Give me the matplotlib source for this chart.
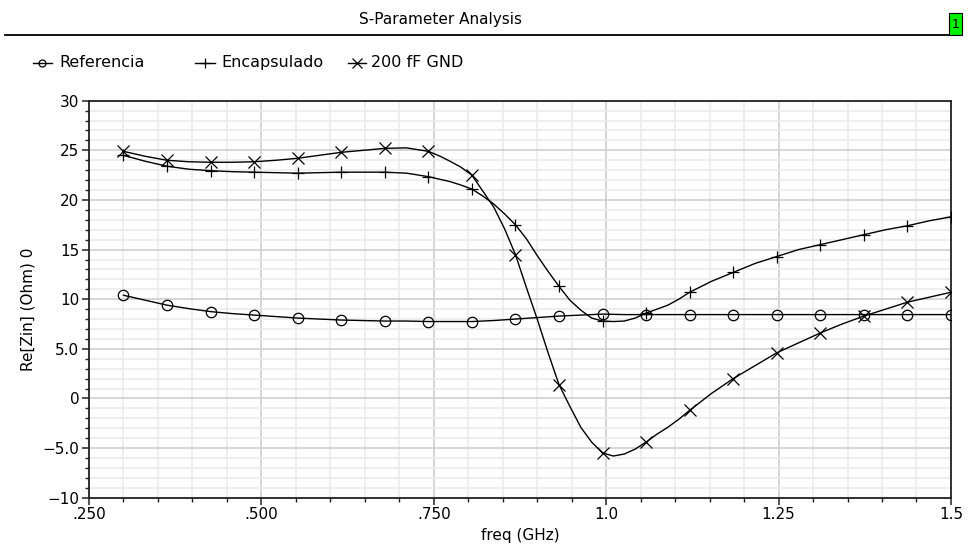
import numpy as np
import matplotlib
matplotlib.use('Agg')
import matplotlib.pyplot as plt
from matplotlib.ticker import MultipleLocator, FixedLocator, FixedFormatter
from matplotlib.patches import Rectangle
from matplotlib.lines import Line2D

# marker grid (GHz): 20 markers from 0.3 to 1.5, curve points halfway between
freq = np.linspace(0.3, 1.5, 39)
# finer sampling through the steep region 0.742 - 1.121 GHz
freq_fine = np.concatenate([freq[:14], np.linspace(freq[14], freq[26], 25), freq[27:]])

referencia = [10.4, 9.9, 9.4, 9.05, 8.75, 8.55, 8.4, 8.25, 8.1, 8.0,
              7.9, 7.85, 7.8, 7.8, 7.75, 7.75, 7.75, 7.85, 8.0, 8.15,
              8.3, 8.4, 8.5, 8.45, 8.45, 8.45, 8.45, 8.45, 8.45, 8.45,
              8.45, 8.45, 8.45, 8.45, 8.45, 8.45, 8.45, 8.45, 8.45]

encapsulado = [24.5, 23.9, 23.4, 23.1, 22.95, 22.85, 22.8, 22.75, 22.7, 22.75,
               22.8, 22.8, 22.8, 22.7,
               22.35, 22.1, 21.85, 21.5, 21.1, 20.4, 19.6, 18.6, 17.5, 16.1,
               14.4, 12.8, 11.3, 9.9, 8.9, 8.1, 7.8, 7.75, 7.8, 8.1,
               8.6, 9.0, 9.4, 10.0, 10.7,
               11.8, 12.7, 13.6, 14.3, 15.0, 15.5, 16.0, 16.5, 17.0, 17.4,
               17.9, 18.3]

gnd200 = [24.9, 24.4, 24.0, 23.85, 23.8, 23.8, 23.85, 24.0, 24.2, 24.5,
          24.8, 25.0, 25.2, 25.25,
          24.9, 24.45, 23.9, 23.3, 22.5, 20.9, 19.3, 17.1, 14.5, 11.2,
          8.0, 4.6, 1.4, -0.8, -2.9, -4.4, -5.5, -5.8, -5.6, -5.1,
          -4.4, -3.6, -2.9, -2.1, -1.2,
          0.5, 2.0, 3.3, 4.6, 5.6, 6.6, 7.5, 8.3, 9.0, 9.7,
          10.2, 10.7]

series_names = ['Referencia', 'Encapsulado', '200 fF GND']
series_marks = ['o', '+', 'x']

xticks = [0.25, 0.5, 0.75, 1.0, 1.25, 1.5]
xlabels = ['.250', '.500', '.750', '1.0', '1.25', '1.5']
yticks = [-10, -5, 0, 5, 10, 15, 20, 25, 30]
ylabels = ['\u221210', '\u22125.0', '0', '5.0', '10', '15', '20', '25', '30']

plt.rcParams['font.family'] = 'DejaVu Sans'

fig = plt.figure(figsize=(9.69, 5.48), dpi=100)
ax = fig.add_axes([0.0918, 0.0918, 0.8896, 0.7244])

curves = [(freq, referencia), (freq_fine, encapsulado), (freq_fine, gnd200)]
for (f, vals), name, m in zip(curves, series_names, series_marks):
    f = np.asarray(f)
    # markers only on the 20-point marker grid
    idx = [i for i, v in enumerate(f) if np.isclose(freq[::2], v).any()]
    ms = 7.5 if m == 'o' else 9
    ax.plot(f, vals, color='black', lw=1.0, marker=m, markevery=idx,
            ms=ms, mfc='none', mec='black', mew=0.9, label=name, zorder=3)

ax.set_xlim(0.25, 1.5)
ax.set_ylim(-10, 30)
ax.xaxis.set_major_locator(FixedLocator(xticks))
ax.xaxis.set_major_formatter(FixedFormatter(xlabels))
ax.xaxis.set_minor_locator(MultipleLocator(0.05))
ax.yaxis.set_major_locator(FixedLocator(yticks))
ax.yaxis.set_major_formatter(FixedFormatter(ylabels))
ax.yaxis.set_minor_locator(MultipleLocator(1))

ax.grid(True, which='major', color='#d0d0d0', lw=1.2, zorder=0)
ax.grid(True, which='minor', color='#ebebeb', lw=1.2, zorder=0)
ax.set_axisbelow(True)

for s in ax.spines.values():
    s.set_color('#222222')
    s.set_linewidth(1.3)

ax.tick_params(which='major', length=5, width=1.1, color='#222222',
               labelsize=11, pad=2)
ax.tick_params(which='minor', length=3, width=1.0, color='#222222')

ax.set_xlabel('freq (GHz)', fontsize=11, labelpad=4)
fig.text(0.029, 0.435, 'Re[Zin] (Ohm) 0', rotation=90, fontsize=11,
         ha='center', va='center')

# header
fig.text(0.455, 0.965, 'S-Parameter Analysis', fontsize=11,
         ha='center', va='center')
fig.add_artist(Line2D([0.005, 0.979], [0.936, 0.936], color='black', lw=1.3))
fig.add_artist(Rectangle((0.979, 0.936), 0.014, 0.04, facecolor='#00ee00',
                         edgecolor='black', lw=0.8))
fig.text(0.986, 0.956, '1', fontsize=9, ha='center', va='center')

# legend row drawn by hand to match the spacing
W, H = 969.0, 548.0
leg_y = 1 - 62.5 / H
leg_x = [(33, 42, 52, 59), (195, 205, 215, 221), (348, 357, 366, 371)]
for (x0, xm, x1, xt), name, m in zip(leg_x, series_names, series_marks):
    fig.add_artist(Line2D([x0 / W, x1 / W], [leg_y, leg_y], color='black', lw=1.0))
    ms = 5 if m == 'o' else 6.5
    fig.add_artist(Line2D([xm / W], [leg_y], marker=m, ms=ms, mfc='none',
                          mec='black', mew=0.9, ls='none'))
    fig.text(xt / W, leg_y, name, fontsize=11.5, ha='left', va='center')

plt.savefig('out.png', dpi=100)
